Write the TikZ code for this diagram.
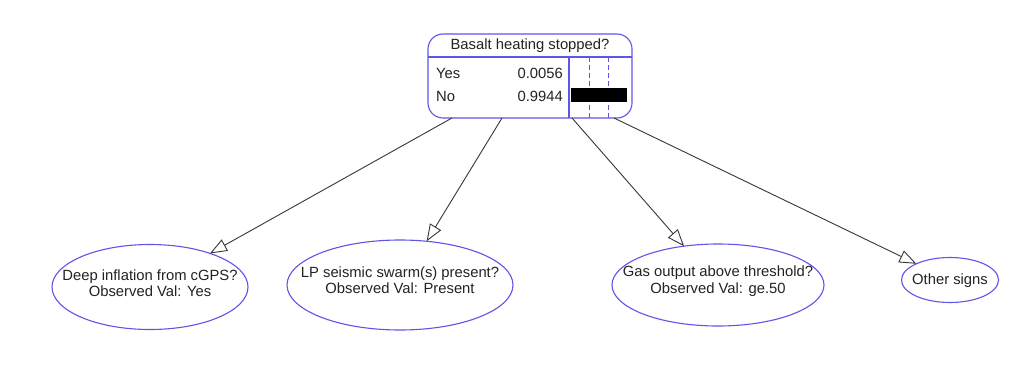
\documentclass[tikz,border=0pt]{standalone}
\usepackage{fontspec}
\setmainfont{Liberation Sans}
\usetikzlibrary{shapes.geometric,arrows.meta}
\definecolor{nodeblue}{RGB}{95,85,230}
\definecolor{txt}{RGB}{35,35,35}
\definecolor{edge}{RGB}{55,55,55}
\tikzset{
  lbl/.style={font=\fontsize{14.8}{16}\selectfont, text=txt, inner sep=0pt},
  obs/.style={ellipse, draw=nodeblue, line width=1.1pt, inner sep=0pt, outer sep=0pt},
  obstxt/.style={align=center, inner sep=0pt, font=\fontsize{14.8}{16.5}\selectfont, text=txt},
  arr/.style={draw=edge, line width=0.9pt, -{Triangle[open,length=17pt,width=13pt,line width=0.9pt]}},
  sep/.style={draw=nodeblue, line width=1.1pt},
  dsh/.style={draw=nodeblue, line width=1pt, dash pattern=on 5pt off 3pt},
}
\begin{document}
\begin{tikzpicture}[x=1pt,y=-1pt]
\path[use as bounding box, fill=white] (0,0) rectangle (1016,385);
% top node
\node[draw=nodeblue, line width=1.1pt, rounded corners=15pt, minimum width=204pt, minimum height=84pt, inner sep=0pt] (top) at (530,76) {};
\node[lbl] (title) at (530,46) {Basalt heating stopped?};
\coordinate (sl) at (428,57);
\coordinate (sr) at (632,57);
\draw[sep] (sl) -- (sr);
\coordinate (vt) at (569,57);
\coordinate (vb) at (569,118);
\draw[sep] (vt) -- (vb);
\coordinate (d1t) at (589,57);
\coordinate (d1b) at (589,118);
\coordinate (d2t) at (608,57);
\coordinate (d2b) at (608,118);
\draw[dsh] (d1t) -- (d1b);
\draw[dsh] (d2t) -- (d2b);
\node[fill=black, minimum width=56pt, minimum height=14pt, inner sep=0pt] (bar) at (599,95) {};
\node[lbl, anchor=west] (yes) at (436,73) {Yes};
\node[lbl, anchor=east] (pyes) at (563,73) {0.0056};
\node[lbl, anchor=west] (no) at (436,96) {No};
\node[lbl, anchor=east] (pno) at (563,96) {0.9944};
% child nodes
\node[obs, minimum width=196pt, minimum height=85pt] (e1) at (150,287) {};
\node[obstxt] (t1) at (150,283) {Deep inflation from cGPS?\\Observed Val: Yes};
\node[obs, minimum width=226pt, minimum height=90pt] (e2) at (400,285) {};
\node[obstxt] (t2) at (400,280) {LP seismic swarm(s) present?\\Observed Val: Present};
\node[obs, minimum width=212pt, minimum height=82pt] (e3) at (718,285) {};
\node[obstxt] (t3) at (718,281) {Gas output above threshold?\\Observed Val: ge.50};
\node[obs, minimum width=97pt, minimum height=45pt] (e4) at (950,280) {};
\node[obstxt] (t4) at (950,281) {Other signs};
% connectors
\coordinate (s1) at (452,118);
\coordinate (s2) at (502,118);
\coordinate (s3) at (572,118);
\coordinate (s4) at (614,118);
\draw[arr] (s1) -- (e1);
\draw[arr] (s2) -- (e2);
\draw[arr] (s3) -- (e3);
\draw[arr] (s4) -- (e4);
\end{tikzpicture}
\end{document}
